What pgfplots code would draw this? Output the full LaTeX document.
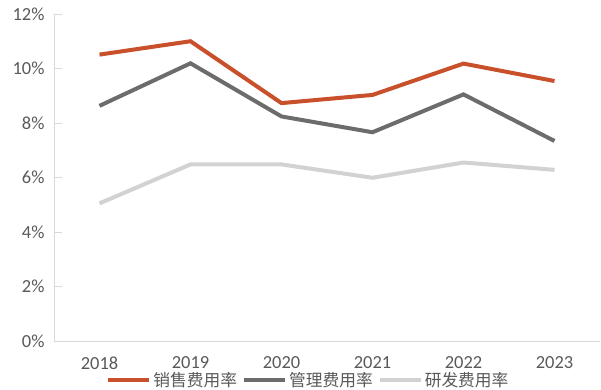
\documentclass[border=0pt]{standalone}
\usepackage{fontspec}
\setmainfont{Carlito}
\newfontfamily\cjk{Noto Sans CJK SC}
\usepackage{pgfplots}
\pgfplotsset{compat=1.18}
\definecolor{sales}{RGB}{200,80,42}
\definecolor{mgmt}{RGB}{108,108,108}
\definecolor{rd}{RGB}{210,210,210}
\definecolor{axisgray}{RGB}{217,217,217}
\definecolor{txtgray}{RGB}{89,89,89}
\begin{document}
\begin{tikzpicture}[x=1bp,y=1bp]
\begin{axis}[
  at={(54bp,48bp)}, anchor=south west,
  scale only axis, width=546bp, height=327bp,
  xmin=-0.5, xmax=5.5, ymin=0, ymax=12,
  axis lines*=left,
  axis line style={axisgray, line width=0.8bp, -},
  xtick={0,...,5}, xticklabels={2018,2019,2020,2021,2022,2023},
  xtick style={draw=none},
  ytick={0,2,...,12},
  yticklabel={\pgfmathprintnumber{\tick}\%},
  ytick style={axisgray, line width=0.8bp},
  tick align=inside, major tick length=8bp,
  /pgf/number format/assume math mode=true,
  ticklabel style={font=\fontsize{18.5}{20}\selectfont, text=txtgray},
  yticklabel style={xshift=-6bp},
  xticklabel style={yshift=-12bp},
  clip=false,
  legend style={at={(0.466,-0.119)}, anchor=center, draw=none, fill=none,
    legend columns=3, font=\cjk\fontsize{16.8}{18}\selectfont, text=txtgray,
    /tikz/every even column/.append style={column sep=3bp},
    inner sep=0pt},
  legend image code/.code={\draw[#1, line width=4bp] (0bp,0bp) -- (41bp,0bp);},
  every axis plot/.append style={line width=4bp},
]
\addplot[sales, mark=none] coordinates {(0,10.51) (1,11.0) (2,8.73) (3,9.03) (4,10.18) (5,9.54)};
\addlegendentry{销售费用率}
\addplot[mgmt, mark=none] coordinates {(0,8.63) (1,10.19) (2,8.24) (3,7.66) (4,9.05) (5,7.34)};
\addlegendentry{管理费用率}
\addplot[rd, mark=none] coordinates {(0,5.05) (1,6.48) (2,6.48) (3,5.99) (4,6.55) (5,6.28)};
\addlegendentry{研发费用率}
\end{axis}
\path[use as bounding box] (0,0) rectangle (601bp,389bp);
\end{tikzpicture}
\end{document}
